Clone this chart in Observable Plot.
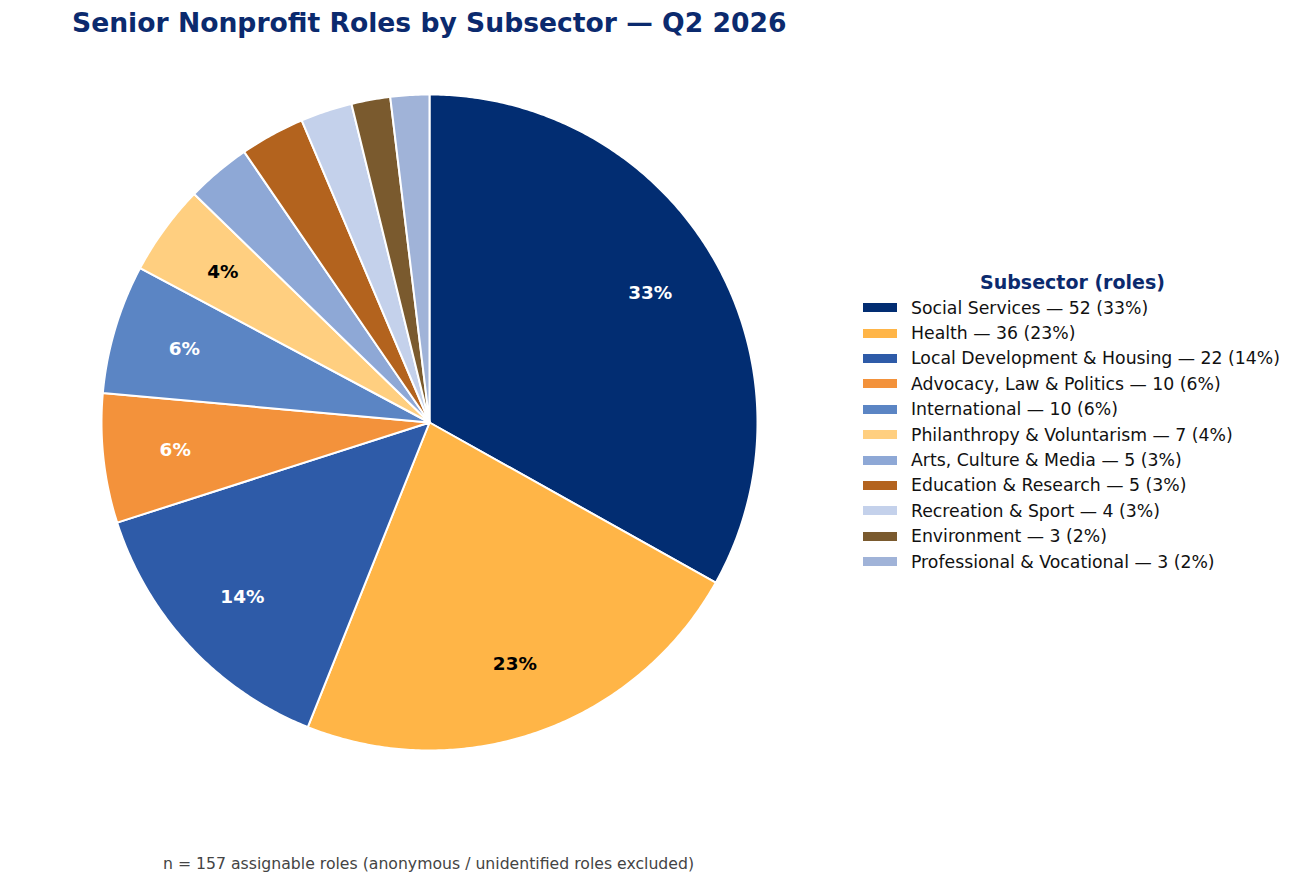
<!DOCTYPE html>
<html>
<head>
<meta charset="utf-8">
<script src="https://cdn.jsdelivr.net/npm/d3@7"></script>
<script src="https://cdn.jsdelivr.net/npm/@observablehq/plot@0.6"></script>
<style>
  html, body { margin: 0; padding: 0; background: #fff; }
  #page { position: relative; width: 1305px; height: 888px; font-family: "DejaVu Sans", sans-serif; overflow: hidden; }
  #title { position: absolute; left: 72px; top: 7px; font-size: 26.6px; font-weight: bold; color: #0b2a6e; white-space: nowrap; }
  #chart { position: absolute; left: 0; top: 0; }
  #legend { position: absolute; left: 863px; top: 270px; width: 440px; }
  #legend .ltitle { font-weight: bold; font-size: 19px; color: #0b2a6e; height: 25px; line-height: 25px; width: 419px; text-align: center; }
  #legend .row { display: flex; align-items: center; height: 25.4px; font-size: 17.3px; color: #111; white-space: nowrap; }
  #legend .sw { width: 34px; height: 9px; margin-right: 14px; flex: none; }
  #caption { position: absolute; left: 163px; top: 854px; font-size: 15.7px; color: #444; white-space: nowrap; }
</style>
</head>
<body>
<div id="page">
  <div id="chart"></div>
  <div id="title"></div>
  <div id="legend"></div>
  <div id="caption"></div>
</div>
<script>
const titleText = "Senior Nonprofit Roles by Subsector — Q2 2026";
const captionText = "n = 157 assignable roles (anonymous / unidentified roles excluded)";
const legendTitle = "Subsector (roles)";
const subsectors = [
  "Social Services", "Health", "Local Development & Housing", "Advocacy, Law & Politics",
  "International", "Philanthropy & Voluntarism", "Arts, Culture & Media",
  "Education & Research", "Recreation & Sport", "Environment", "Professional & Vocational"
];
const roles = [52, 36, 22, 10, 10, 7, 5, 5, 4, 3, 3];
const colors = [
  "#022d72", "#ffb547", "#2e5ba8", "#f3923b", "#5b85c4", "#ffcf80",
  "#8ea8d6", "#b3631e", "#c4d1eb", "#7a5a2e", "#a0b3d8"
];
const labelDark = [false, true, false, false, false, true, false, false, false, false, true];

const total = d3.sum(roles);
const pctOf = v => Math.round(v / total * 100);

document.getElementById("title").textContent = titleText;
document.getElementById("caption").textContent = captionText;

// legend
const leg = document.getElementById("legend");
const lt = document.createElement("div");
lt.className = "ltitle"; lt.textContent = legendTitle; leg.appendChild(lt);
subsectors.forEach((s, i) => {
  const row = document.createElement("div"); row.className = "row";
  const sw = document.createElement("div"); sw.className = "sw"; sw.style.background = colors[i];
  const tx = document.createElement("span"); tx.textContent = `${s} — ${roles[i]} (${pctOf(roles[i])}%)`;
  row.appendChild(sw); row.appendChild(tx); leg.appendChild(row);
});

// pie geometry from data (unit radius)
const data = subsectors.map((name, i) => ({name, value: roles[i], i}));
const arcs = d3.pie().sort(null).value(d => d.value).startAngle(0).endAngle(2 * Math.PI)(data);
const polyPts = [];
arcs.forEach(a => {
  const name = a.data.name;
  polyPts.push({name, x: 0, y: 0});
  const n = Math.max(2, Math.ceil((a.endAngle - a.startAngle) / (Math.PI / 360)));
  for (let k = 0; k <= n; k++) {
    const t = a.startAngle + (a.endAngle - a.startAngle) * k / n;
    polyPts.push({name, x: Math.sin(t), y: Math.cos(t)});
  }
  polyPts.push({name, x: 0, y: 0});
});
const labels = arcs
  .filter(a => pctOf(a.data.value) >= 4)
  .map(a => {
    const m = (a.startAngle + a.endAngle) / 2;
    return {x: 0.78 * Math.sin(m), y: 0.78 * Math.cos(m), text: pctOf(a.data.value) + "%", dark: labelDark[a.data.i]};
  });

const W = 860, H = 888, cx = 429, cy = 422, R = 328;
const chart = Plot.plot({
  width: W, height: H,
  marginTop: 0, marginRight: 0, marginBottom: 0, marginLeft: 0,
  x: {domain: [-cx / R, (W - cx) / R], axis: null},
  y: {domain: [-(H - cy) / R, cy / R], axis: null},
  color: {domain: subsectors, range: colors},
  style: {fontFamily: "DejaVu Sans, sans-serif", background: "transparent"},
  marks: [
    Plot.line(polyPts, {x: "x", y: "y", z: "name", fill: "name", stroke: "white", strokeWidth: 2, strokeLinejoin: "round", curve: "linear"}),
    Plot.text(labels.filter(d => !d.dark), {x: "x", y: "y", text: "text", fill: "white", fontSize: 18.4, fontWeight: "bold"}),
    Plot.text(labels.filter(d => d.dark), {x: "x", y: "y", text: "text", fill: "black", fontSize: 18.4, fontWeight: "bold"})
  ]
});
document.getElementById("chart").appendChild(chart);
</script>
</body>
</html>
